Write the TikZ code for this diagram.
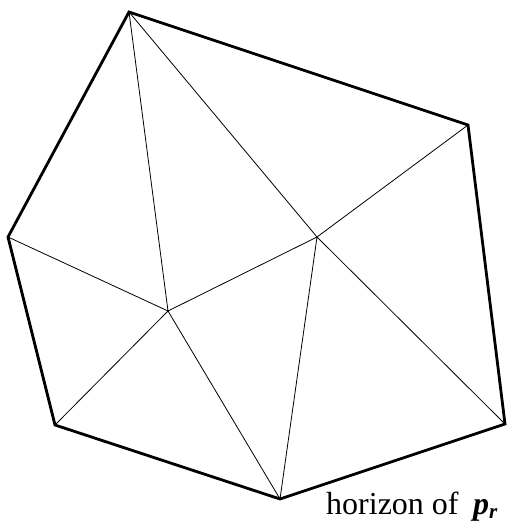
\documentclass[tikz,border=0pt]{standalone}
\usepackage{fontspec}
\setmainfont{Liberation Serif}
\begin{document}
\begin{tikzpicture}[x=1pt,y=-1pt,
  hull/.style={line width=2.8pt,line join=miter},
  tri/.style={line width=0.8pt},
  lbl/.style={font=\fontsize{32}{36}\selectfont,inner sep=0pt,anchor=base west}]
\useasboundingbox (0,0) rectangle (515,526);
\coordinate (A) at (129,12);
\coordinate (B) at (468,125);
\coordinate (C) at (505,424);
\coordinate (D) at (280,499);
\coordinate (E) at (55,425);
\coordinate (F) at (8,237);
\coordinate (G) at (317,237);
\coordinate (H) at (168,311);
\draw[tri] (A)--(H) (A)--(G) (F)--(H) (E)--(H) (H)--(D) (H)--(G) (G)--(B) (G)--(C) (G)--(D);
\draw[hull] (A)--(B)--(C)--(D)--(E)--(F)--cycle;
\node[lbl] (t) at (326,514) {horizon of\hspace{0.45em}\textbf{\textit{p}}\raisebox{-0.15em}{\fontsize{21}{24}\selectfont\textbf{\textit{r}}}};
\end{tikzpicture}
\end{document}
